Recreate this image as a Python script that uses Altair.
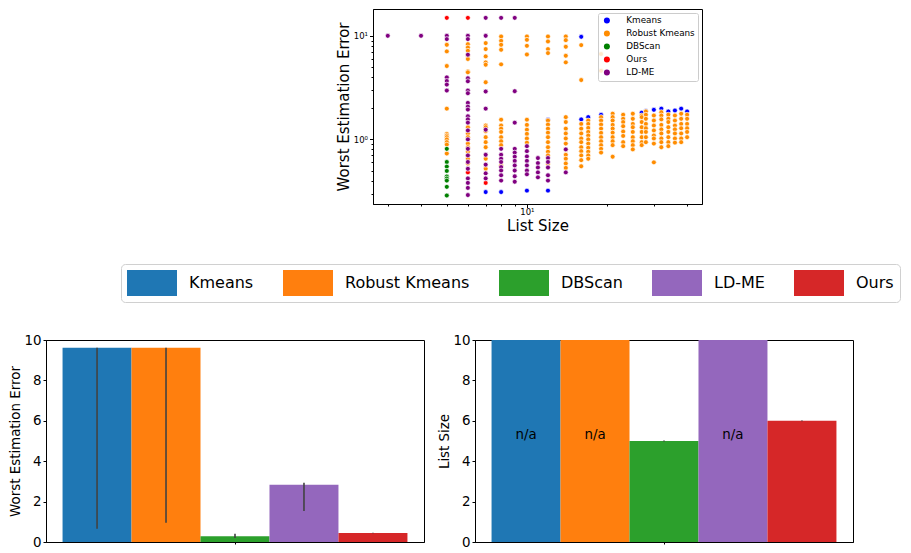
import altair as alt
import pandas as pd

# ---------------- scatter data (list size vs worst estimation error) ----------------
SERIES = ["Kmeans", "Robust Kmeans", "DBScan", "Ours", "LD-ME"]
SCATTER_COLORS = ["#0000ff", "#ff8c00", "#008000", "#ff0000", "#800080"]

KMEANS_PTS = {7: [0.31], 8: [0.31], 10: [0.32], 12: [0.32, 1.55], 16: [9.78, 1.56],
              17: [1.64], 19: [1.73], 27: [1.81], 28: [1.88], 30: [1.93], 32: [1.98],
              34: [1.86], 36: [1.90], 38: [1.98], 40: [1.86]}
ROBUST_PTS = {
    5: [8.19, 7.07, 5.11, 1.98, 1.13, 1.09, 1.05, 1.0, 0.94, 0.89, 0.73],
    6: [8.3, 7.7, 7.17, 6.4, 5.97, 4.54, 4.44, 1.31, 1.14, 1.05, 0.91, 0.84, 0.76, 0.70, 0.65, 0.585],
    7: [8.5, 7.44, 6.33, 5.54, 5.26, 3.56, 1.36, 1.31, 1.20, 1.05, 0.94, 0.84, 0.65, 0.52],
    8: [9.85, 8.95, 8.19, 7.33, 5.30, 1.55, 1.36, 1.27, 1.18, 1.05, 0.96, 0.88, 0.56],
    10: [9.85, 9.15, 8.0, 6.6, 1.55, 1.38, 1.24, 1.13, 1.02, 0.93],
    12: [9.85, 8.82, 7.44, 6.81, 1.52, 1.39, 1.27, 1.16, 1.05, 0.94, 0.84, 0.76, 0.70, 0.58],
    14: [9.85, 9.08, 7.84, 6.42, 5.54, 1.64, 1.47, 1.27, 1.14, 1.02, 0.91, 0.80, 0.71, 0.65, 0.585, 0.53],
    16: [8.13, 3.74, 1.41, 1.27, 1.14, 1.02, 0.94, 0.84, 0.77, 0.70, 0.63, 0.55],
    17: [1.52, 1.41, 1.29, 1.18, 1.09, 1.0, 0.91, 0.83, 0.76, 0.70, 0.65],
    19: [6.67, 4.6, 1.64, 1.52, 1.39, 1.27, 1.155, 1.05, 0.96, 0.88, 0.81, 0.745],
    21: [1.77, 1.64, 1.52, 1.38, 1.27, 1.16, 1.05, 0.96, 0.88, 0.68],
    23: [1.73, 1.58, 1.47, 1.34, 1.19, 1.08, 0.94, 0.86],
    25: [1.77, 1.58, 1.41, 1.31, 1.18, 1.05, 0.96, 0.88, 0.80],
    27: [1.70, 1.64, 1.47, 1.31, 1.18, 1.05, 0.94, 0.88],
    28: [1.86, 1.73, 1.58, 1.41, 1.28, 1.18, 1.05, 0.94],
    30: [1.70, 1.52, 1.36, 1.22, 1.09, 1.02, 0.91, 0.60],
    32: [1.83, 1.70, 1.56, 1.38, 1.25, 1.14, 1.02, 0.94, 0.84],
    34: [1.73, 1.58, 1.47, 1.31, 1.18, 1.05, 0.94, 0.86],
    36: [1.70, 1.52, 1.36, 1.25, 1.14, 1.02, 0.93],
    38: [1.77, 1.58, 1.41, 1.28, 1.14, 1.02, 0.94],
    40: [1.73, 1.58, 1.41, 1.28, 1.18, 1.05],
}
DBSCAN_PTS = {5: [0.81, 0.605, 0.546, 0.496, 0.438, 0.419, 0.40, 0.348, 0.287]}
OURS_PTS = {5: [14.9], 6: [14.9, 0.48], 7: [0.38]}
LDME_PTS = {
    3: [10.0],
    4: [10.0],
    5: [10.0, 9.29, 3.97, 3.66, 3.38, 2.96],
    6: [10.0, 9.3, 6.57, 3.89, 3.64, 2.96, 2.79, 2.25, 2.07, 1.94, 1.67, 1.56, 1.45, 1.22,
        1.0, 0.81, 0.70, 0.605, 0.52, 0.42, 0.38, 0.34, 0.29],
    7: [14.9, 10.0, 2.90, 1.98, 1.24, 0.71, 0.57, 0.47, 0.42],
    8: [14.9, 0.81, 0.71, 0.65, 0.605, 0.54, 0.50, 0.45, 0.40],
    9: [14.9, 2.92, 1.45, 0.81, 0.745, 0.68, 0.62, 0.56, 0.50, 0.44, 0.39],
    10: [0.86, 0.77, 0.685, 0.62, 0.56, 0.50, 0.46],
    11: [0.66, 0.59, 0.535, 0.48, 0.43],
    12: [0.66, 0.605, 0.535, 0.45, 0.40],
    14: [0.80, 0.48],
}
X_TICKS = [3, 4, 5, 6, 7, 8, 9, 10, 20, 30, 40]
Y_TICKS = [0.3, 0.4, 0.5, 0.6, 0.7, 0.8, 0.9, 1, 2, 3, 4, 5, 6, 7, 8, 9, 10]

# ---------------- bar data ----------------
BAR_SERIES = ["Kmeans", "Robust Kmeans", "DBScan", "LD-ME", "Ours"]
BAR_COLORS = ["#1f77b4", "#ff7f0e", "#2ca02c", "#9467bd", "#d62728"]
ERR_VALUES = [9.62, 9.62, 0.29, 2.83, 0.44]
ERR_LO = [0.65, 0.95, 0.20, 1.53, 0.43]
ERR_HI = [9.62, 9.62, 0.41, 2.93, 0.46]
SIZE_VALUES = [10, 10, 5.0, 10, 6.0]
SIZE_LO = [None, None, 4.98, None, 5.98]
SIZE_HI = [None, None, 5.02, None, 6.02]
SIZE_NOTES = ["n/a", "n/a", "", "n/a", ""]
BAR_TICKS = [0, 2, 4, 6, 8, 10]

FONT = "DejaVu Sans"

rows = []
for name, pts in zip(SERIES, [KMEANS_PTS, ROBUST_PTS, DBSCAN_PTS, OURS_PTS, LDME_PTS]):
    for n, vals in pts.items():
        for v in vals:
            rows.append({"method": name, "n": n, "err": v})
sdf = pd.DataFrame(rows)

minor_x = {"condition": {"test": "datum.value == 10", "value": 3.5}, "value": 2}
minor_y = {"condition": {"test": "datum.value == 10 || datum.value == 1", "value": 3.5}, "value": 2}

scatter = alt.Chart(sdf).mark_circle(size=24, opacity=1, stroke="white", strokeWidth=0.7).encode(
    x=alt.X("n:Q",
            scale=alt.Scale(type="log", domain=[2.64, 45.5], nice=False),
            axis=alt.Axis(values=X_TICKS, labelExpr="datum.value == 10 ? '10¹' : ''",
                          title="List Size", titleFontSize=15, titlePadding=2,
                          labelFontSize=8.5, labelPadding=0, tickSize=minor_x,
                          labelFlush=False, labelOverlap=False)),
    y=alt.Y("err:Q",
            scale=alt.Scale(type="log", domain=[0.2377, 18.15], nice=False),
            axis=alt.Axis(values=Y_TICKS,
                          labelExpr="datum.value == 10 ? '10¹' : (datum.value == 1 ? '10⁰' : '')",
                          title="Worst Estimation Error", titleFontSize=15, titlePadding=2,
                          labelFontSize=8.5, labelPadding=2, tickSize=minor_y,
                          labelOverlap=False)),
    color=alt.Color("method:N", scale=alt.Scale(domain=SERIES, range=SCATTER_COLORS),
                    legend=alt.Legend(title=None, orient="top-right", offset=4, padding=3,
                                      symbolType="circle", symbolSize=36, symbolStrokeWidth=0,
                                      symbolOffset=1.5, labelOffset=15, labelFontSize=8.8,
                                      rowPadding=3, strokeColor="#cccccc",
                                      fillColor="rgba(255,255,255,0.8)", cornerRadius=2)),
).properties(width=329, height=195)

spacer = alt.Chart(pd.DataFrame({"s": [0]})).mark_point(opacity=0, size=0).encode(
    x=alt.value(1), y=alt.value(0.5)
).properties(width=288, height=1, view=alt.ViewBackground(stroke="transparent"))

big_legend = alt.Legend(title=None, orient="none", legendX=75, legendY=-76, direction="horizontal",
                        symbolType="M-1,-0.52H1V0.52H-1Z", symbolSize=2500, clipHeight=26,
                        symbolStrokeWidth=0, symbolOpacity=1, labelFontSize=16, labelOffset=12,
                        columnPadding=29, padding=6, strokeColor="#d0d0d0", fillColor="white",
                        cornerRadius=4)


def bar_panel(values, lo, hi, notes, ytitle):
    df = pd.DataFrame({"g": [" "] * 5, "series": BAR_SERIES, "v": values,
                       "lo": lo, "hi": hi, "note": notes})
    xenc = alt.X("g:N", scale=alt.Scale(paddingInner=0, paddingOuter=0.048),
                 axis=alt.Axis(title=None, labels=False, ticks=True, tickSize=2))
    xoff = alt.XOffset("series:N", sort=BAR_SERIES, scale=alt.Scale(paddingInner=0, paddingOuter=0))
    yaxis = alt.Axis(values=BAR_TICKS, title=ytitle, titleFontSize=13.4, labelOverlap=False,
                     labelFontSize=13.4, tickSize=3, labelPadding=2, titlePadding=1)
    base = alt.Chart(df)
    bars = base.mark_bar(clip=True).encode(
        x=xenc, xOffset=xoff,
        y=alt.Y("v:Q", scale=alt.Scale(domain=[0, 10], nice=False), axis=yaxis),
        color=alt.Color("series:N", sort=BAR_SERIES,
                        scale=alt.Scale(domain=BAR_SERIES, range=BAR_COLORS), legend=big_legend),
    )
    rules = base.mark_rule(color="#424242", strokeWidth=1.6).encode(
        x=alt.X("g:N"), xOffset=alt.XOffset("series:N", sort=BAR_SERIES),
        y=alt.Y("lo:Q", title=ytitle), y2="hi:Q",
    )
    text = base.mark_text(fontSize=13.4, color="black", baseline="middle").encode(
        x=alt.X("g:N"), xOffset=alt.XOffset("series:N", sort=BAR_SERIES),
        y=alt.datum(5.3), text="note:N",
    )
    return alt.layer(bars, rules, text).properties(width=378, height=202)


bar1 = bar_panel(ERR_VALUES, ERR_LO, ERR_HI, [""] * 5, "Worst Estimation Error")
bar2 = bar_panel(SIZE_VALUES, SIZE_LO, SIZE_HI, SIZE_NOTES, "List Size")

row1 = alt.hconcat(spacer, scatter, spacing=0).resolve_scale(color="independent").resolve_legend(
    color="independent")
row2 = alt.hconcat(bar1, bar2, spacing=12)

chart = alt.vconcat(row1, row2, spacing=29).resolve_scale(color="independent").resolve_legend(
    color="independent"
).properties(
    padding={"left": 0, "top": 0, "right": 0, "bottom": 0}
).configure(font=FONT).configure_view(stroke="black", strokeWidth=1).configure_axis(
    grid=False, domainColor="black", tickColor="black", labelColor="black", titleColor="black",
    titleFontWeight="normal", labelFont=FONT, titleFont=FONT
).configure_legend(labelColor="black", labelFont=FONT)

chart.save("out.html", embed_options={"renderer": "svg", "actions": False})
